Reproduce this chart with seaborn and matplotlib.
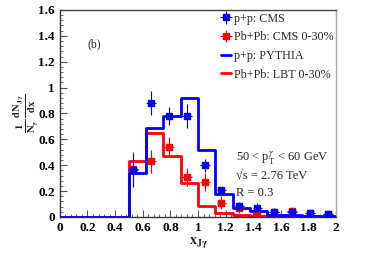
#Import libraries
import numpy as np
import seaborn as sns
import matplotlib
matplotlib.use('Agg')
import matplotlib.pyplot as plt
from matplotlib.lines import Line2D
from matplotlib.ticker import AutoMinorLocator

#Histogram bins (x_Jgamma)
bin_edges = [0, 0.125, 0.25, 0.375, 0.5, 0.625, 0.75, 0.875, 1.0, 1.125,
             1.25, 1.375, 1.5, 1.625, 1.75, 1.875, 2.0]

#Model curves
pythia_pp = [0, 0, 0, 0, 0.34, 0.69, 0.78, 0.92, 0.52, 0.18,
             0.072, 0.047, 0.018, 0.012, 0.008, 0.005]
lbt_pbpb = [0, 0, 0, 0, 0.43, 0.65, 0.47, 0.26, 0.085, 0.028,
            0.014, 0.01, 0.007, 0.005, 0.004, 0.003]

#CMS data points
cms_x = [0.53, 0.66, 0.79, 0.92, 1.05, 1.17, 1.30, 1.43, 1.55, 1.68, 1.81, 1.94]
cms_pp = [0.36, 0.88, 0.78, 0.78, 0.40, 0.21, 0.085, 0.07, 0.04, 0.04, 0.03, 0.025]
cms_pp_err = [0.13, 0.09, 0.07, 0.09, 0.05, 0.025, 0.03, 0.035, 0.03, 0.025, 0.02, 0.02]
cms_pbpb = [0.37, 0.43, 0.54, 0.31, 0.27, 0.11, 0.07, 0.04, 0.035, 0.045, 0.03, 0.02]
cms_pbpb_err = [0.13, 0.09, 0.08, 0.07, 0.07, 0.05, 0.04, 0.03, 0.03, 0.03, 0.02, 0.02]
x_halfwidth = 0.035

x_ticks = [0, 0.2, 0.4, 0.6, 0.8, 1, 1.2, 1.4, 1.6, 1.8, 2]
x_ticklabels = ['0', '0.2', '0.4', '0.6', '0.8', '1', '1.2', '1.4', '1.6', '1.8', '2']
y_ticks = [0, 0.2, 0.4, 0.6, 0.8, 1, 1.2, 1.4, 1.6]
y_ticklabels = ['0', '0.2', '0.4', '0.6', '0.8', '1', '1.2', '1.4', '1.6']

sns.set_style('ticks')
plt.rcParams['font.family'] = ['Liberation Serif', 'DejaVu Serif']
plt.rcParams['mathtext.fontset'] = 'stix'

fig = plt.figure(figsize=(3.65, 2.62), dpi=100)
ax = fig.add_axes([0.164, 0.172, 0.757, 0.79])

centers = [(a + b) / 2 for a, b in zip(bin_edges[:-1], bin_edges[1:])]

#Model histograms
sns.histplot(x=centers, weights=lbt_pbpb, bins=bin_edges, element='step', fill=False,
             color='red', linewidth=2, ax=ax, zorder=2)
sns.histplot(x=centers, weights=pythia_pp, bins=bin_edges, element='step', fill=False,
             color='blue', linewidth=2, ax=ax, zorder=3)

#Data points
eb_aa = ax.errorbar(cms_x, cms_pbpb, yerr=cms_pbpb_err, xerr=x_halfwidth, fmt='s', color='red',
                    markersize=4, elinewidth=0.8, capsize=0, zorder=4)
eb_pp = ax.errorbar(cms_x, cms_pp, yerr=cms_pp_err, xerr=x_halfwidth, fmt='s', color='blue',
                    markersize=4, elinewidth=0.8, capsize=0, zorder=5)

ax.set_xlim(0, 2)
ax.set_ylim(0, 1.6)
ax.set_xticks(x_ticks)
ax.set_xticklabels(x_ticklabels)
ax.set_yticks(y_ticks)
ax.set_yticklabels(y_ticklabels)
ax.xaxis.set_minor_locator(AutoMinorLocator(5))
ax.yaxis.set_minor_locator(AutoMinorLocator(5))
ax.tick_params(which='both', direction='in', top=False, right=False, colors='#555555',
               labelcolor='black')
ax.tick_params(which='major', length=5, width=0.8)
ax.tick_params(which='minor', length=2.5, width=0.6)
for lab in ax.get_xticklabels() + ax.get_yticklabels():
    lab.set_fontweight('bold')
    lab.set_fontsize(9.5)

for side in ['left', 'bottom']:
    ax.spines[side].set_color('#333333')
ax.spines['top'].set_color('#444444')
ax.spines['right'].set_color('#aaaaaa')
for s in ax.spines.values():
    s.set_linewidth(1)

ax.set_xlabel(r'$\mathbf{x_{J\gamma}}$', fontsize=10, labelpad=1)
ax.set_ylabel(r'$\mathbf{\frac{1}{N_{\gamma}}\,\frac{dN_{J\gamma}}{dx}}$', fontsize=11, labelpad=-1)

ax.text(0.10, 0.836, '(b)', transform=ax.transAxes, fontsize=8.5, va='center')

#Legend
handles = [
    eb_pp,
    eb_aa,
    Line2D([], [], color='blue', linewidth=2),
    Line2D([], [], color='red', linewidth=2),
]
labels = ['p+p: CMS', 'Pb+Pb: CMS 0-30%', 'p+p: PYTHIA', 'Pb+Pb: LBT 0-30%']
ax.legend(handles, labels, loc='upper left', bbox_to_anchor=(0.566, 1.01), frameon=False,
          fontsize=8.7, handlelength=0.8, handletextpad=0.25, labelspacing=0.55,
          borderaxespad=0)

ax.text(0.638, 0.285, r'50 < p$_\mathregular{T}^{\gamma}$ < 60 GeV', transform=ax.transAxes,
        fontsize=9, va='center')
ax.text(0.638, 0.198, '√s = 2.76 TeV', transform=ax.transAxes,
        fontsize=9, va='center')
ax.text(0.638, 0.116, 'R = 0.3', transform=ax.transAxes, fontsize=9, va='center')

fig.savefig('out.png', dpi=100)
